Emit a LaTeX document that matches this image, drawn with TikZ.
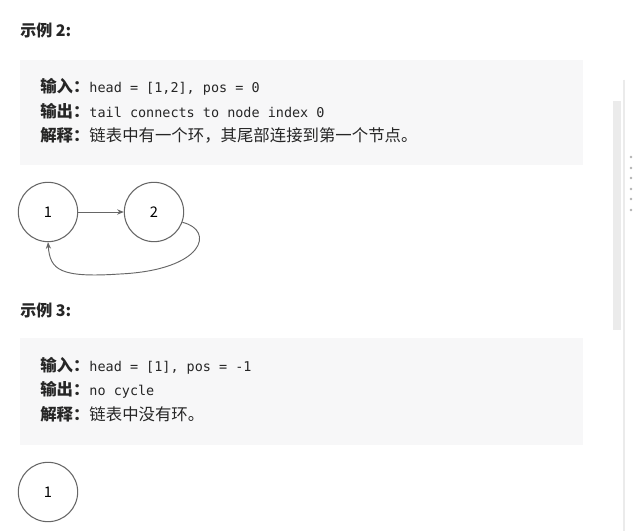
\documentclass[tikz,border=0pt]{standalone}
\usepackage{fontspec}
\setmainfont{Noto Sans CJK SC}
\setmonofont{DejaVu Sans Mono}
\newcommand{\mt}[1]{{\fontsize{10.1}{12}\selectfont\ttfamily #1}}
\usetikzlibrary{arrows.meta}
\definecolor{boxbg}{HTML}{F7F7F8}
\definecolor{txt}{HTML}{262626}
\definecolor{circ}{HTML}{666666}
\tikzset{
  lbl/.style={anchor=west,inner sep=0pt,text=txt,font=\fontsize{12.3}{14}\selectfont},
  hd/.style={anchor=west,inner sep=0pt,text=txt,font=\fontsize{12}{14}\selectfont\bfseries},
  ll/.style={circle,draw=circ,line width=0.8pt,minimum size=44.5pt,inner sep=0pt,font=\fontsize{11}{13}\selectfont},
  conn/.style={draw=circ,line width=0.7pt,-{Stealth[length=5pt,width=4pt]}},
}
\begin{document}
\begin{tikzpicture}[x=0.75pt,y=-0.75pt]
\useasboundingbox[fill=white] (0,0) rectangle (640,531);
\node[hd] (h2) at (20,30) {示例 2:};
\fill[boxbg] (20,60) rectangle (583,165);
\node[lbl] (a1) at (40,87) {\textbf{输入：}\mt{head = [1,2], pos = 0}};
\node[lbl] (a2) at (40,111) {\textbf{输出：}\mt{tail connects to node index 0}};
\node[lbl] (a3) at (40,135) {\textbf{解释：}链表中有一个环，其尾部连接到第一个节点。};
\node[ll] (n1) at (48,212) {1};
\node[ll] (n2) at (154,212) {2};
\draw[conn] (n1) -- (n2);
\draw[conn] (n2.-20) .. controls (215,230) and (205,270) .. (120,274) .. controls (60,278) and (50,270) .. (n1.south);
\node[hd] (h3) at (20,310) {示例 3:};
\fill[boxbg] (20,338) rectangle (583,445);
\node[lbl] (b1) at (40,366) {\textbf{输入：}\mt{head = [1], pos = -1}};
\node[lbl] (b2) at (40,390) {\textbf{输出：}\mt{no cycle}};
\node[lbl] (b3) at (40,414) {\textbf{解释：}链表中没有环。};
\node[ll] (n3) at (48,492) {1};
% scrollbar
\fill[black!8] (613,101) rectangle (621,330);
\draw[black!8,line width=0.8pt] (624,80) -- (624,531);
\foreach \yy in {157,168,178,189,199,210} \fill[black!30] (631,\yy) circle (1.3);
\end{tikzpicture}
\end{document}
